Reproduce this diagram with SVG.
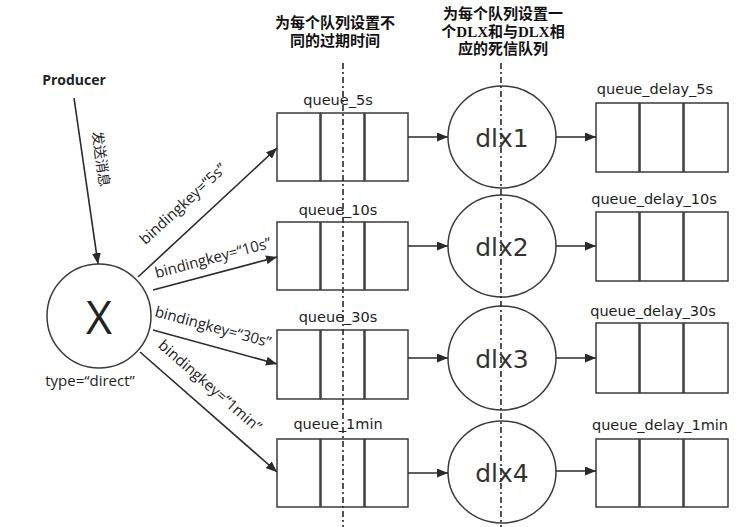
<svg xmlns="http://www.w3.org/2000/svg" width="744" height="527" viewBox="0 0 744 527">
<defs>
<style>
.bg{fill:#ffffff}
.cell{fill:#ffffff;stroke:#3a3a3a;stroke-width:1.5}
.node{fill:#ffffff;stroke:#3a3a3a;stroke-width:1.5}
.edge{fill:none;stroke:#2a2a2a;stroke-width:1.6}
.guide{fill:none;stroke:#2a2a2a;stroke-width:1.6;stroke-dasharray:6 3 2 3}
.head{font-family:"Liberation Serif","Noto Sans CJK SC",serif;font-weight:bold;font-size:15px;fill:#111;text-anchor:middle}
.qlabel{font-family:"DejaVu Sans",sans-serif;font-size:14.5px;fill:#222;text-anchor:middle}
.dlx{font-family:"DejaVu Sans",sans-serif;font-size:25px;fill:#333;text-anchor:middle}
.bind{font-family:"Open Sans",sans-serif;font-size:15px;fill:#222;text-anchor:middle}
.cjk{font-family:"Noto Sans CJK SC",sans-serif;font-size:14px;fill:#222;text-anchor:middle}
</style>
<marker id="arr" markerUnits="userSpaceOnUse" markerWidth="11" markerHeight="9" refX="11" refY="4.5" orient="auto">
<path d="M0,0 L11,4.5 L0,9 z" fill="#2a2a2a"/>
</marker>
</defs>
<rect class="bg" x="0" y="0" width="744" height="527"/>

<g id="headings">
<text class="head" x="335" y="28">为每个队列设置不</text>
<text class="head" x="335" y="46">同的过期时间</text>
<text class="head" x="503" y="19">为每个队列设置一</text>
<text class="head" x="503" y="37">个DLX和与DLX相</text>
<text class="head" x="503" y="54">应的死信队列</text>
</g>

<g id="producer">
<text x="74" y="85" font-family="'Open Sans',sans-serif" font-weight="bold" font-size="14" fill="#222" text-anchor="middle">Producer</text>
</g>

<g id="exchange">
<circle class="node" cx="99" cy="316" r="52"/>
<text x="99" y="334" font-family="'Open Sans',sans-serif" font-size="45" fill="#222" text-anchor="middle">X</text>
<text class="bind" x="90" y="386" font-size="15.5">type=“direct”</text>
</g>

<g id="queue_5s">
<text class="qlabel" x="338" y="105">queue_5s</text>
<rect class="cell" x="277" y="113" width="43" height="68"/>
<rect class="cell" x="321" y="113" width="43" height="68"/>
<rect class="cell" x="365" y="113" width="43" height="68"/>
</g>
<g id="queue_10s">
<text class="qlabel" x="338" y="215">queue_10s</text>
<rect class="cell" x="277" y="222" width="43" height="68"/>
<rect class="cell" x="321" y="222" width="43" height="68"/>
<rect class="cell" x="365" y="222" width="43" height="68"/>
</g>
<g id="queue_30s">
<text class="qlabel" x="338" y="322">queue_30s</text>
<rect class="cell" x="277" y="330" width="43" height="69"/>
<rect class="cell" x="321" y="330" width="43" height="69"/>
<rect class="cell" x="365" y="330" width="43" height="69"/>
</g>
<g id="queue_1min">
<text class="qlabel" x="338" y="429">queue_1min</text>
<rect class="cell" x="277" y="439" width="43" height="68"/>
<rect class="cell" x="321" y="439" width="43" height="68"/>
<rect class="cell" x="365" y="439" width="43" height="68"/>
</g>

<g id="dlx1">
<ellipse class="node" cx="502" cy="137" rx="54" ry="51"/>
<text class="dlx" x="502" y="147">dlx1</text>
</g>
<g id="dlx2">
<ellipse class="node" cx="502" cy="246" rx="54" ry="51"/>
<text class="dlx" x="502" y="256">dlx2</text>
</g>
<g id="dlx3">
<ellipse class="node" cx="502" cy="358" rx="54" ry="52"/>
<text class="dlx" x="502" y="368">dlx3</text>
</g>
<g id="dlx4">
<ellipse class="node" cx="502" cy="472" rx="54" ry="51"/>
<text class="dlx" x="502" y="482">dlx4</text>
</g>

<g id="queue_delay_5s">
<text class="qlabel" x="655" y="94">queue_delay_5s</text>
<rect class="cell" x="596" y="103" width="43" height="69"/>
<rect class="cell" x="640" y="103" width="43" height="69"/>
<rect class="cell" x="684" y="103" width="44" height="69"/>
</g>
<g id="queue_delay_10s">
<text class="qlabel" x="654" y="204">queue_delay_10s</text>
<rect class="cell" x="596" y="212" width="43" height="69"/>
<rect class="cell" x="640" y="212" width="43" height="69"/>
<rect class="cell" x="684" y="212" width="44" height="69"/>
</g>
<g id="queue_delay_30s">
<text class="qlabel" x="653" y="316">queue_delay_30s</text>
<rect class="cell" x="596" y="323" width="43" height="70"/>
<rect class="cell" x="640" y="323" width="43" height="70"/>
<rect class="cell" x="684" y="323" width="44" height="70"/>
</g>
<g id="queue_delay_1min">
<text class="qlabel" x="660" y="430">queue_delay_1min</text>
<rect class="cell" x="596" y="439" width="43" height="68"/>
<rect class="cell" x="640" y="439" width="43" height="68"/>
<rect class="cell" x="684" y="439" width="44" height="68"/>
</g>

<g id="connectors">
<line class="edge" x1="74" y1="98" x2="98" y2="264" marker-end="url(#arr)"/>
<text class="cjk" transform="translate(101,159) rotate(82)" y="5">发送消息</text>

<line class="edge" x1="138" y1="277" x2="277" y2="148" marker-end="url(#arr)"/>
<text class="bind" transform="translate(183,204) rotate(-42.7)" y="5">bindingkey=“5s”</text>
<line class="edge" x1="153" y1="290" x2="277" y2="257" marker-end="url(#arr)"/>
<text class="bind" transform="translate(213,258) rotate(-14.9)" y="5">bindingkey=“10s”</text>
<line class="edge" x1="153" y1="330" x2="277" y2="364" marker-end="url(#arr)"/>
<text class="bind" transform="translate(213,327) rotate(15.2)" y="5">bindingkey=“30s”</text>
<line class="edge" x1="140" y1="352" x2="277" y2="472" marker-end="url(#arr)"/>
<text class="bind" transform="translate(210,386) rotate(41)" y="5">bindingkey=“1min”</text>

<line class="edge" x1="408" y1="137" x2="448" y2="137" marker-end="url(#arr)"/>
<line class="edge" x1="408" y1="246" x2="448" y2="246" marker-end="url(#arr)"/>
<line class="edge" x1="408" y1="358" x2="448" y2="358" marker-end="url(#arr)"/>
<line class="edge" x1="408" y1="473" x2="448" y2="473" marker-end="url(#arr)"/>

<line class="edge" x1="556" y1="137" x2="596" y2="137" marker-end="url(#arr)"/>
<line class="edge" x1="556" y1="246" x2="596" y2="246" marker-end="url(#arr)"/>
<line class="edge" x1="556" y1="358" x2="596" y2="358" marker-end="url(#arr)"/>
<line class="edge" x1="556" y1="471" x2="596" y2="471" marker-end="url(#arr)"/>
</g>

<g id="guides">
<line class="guide" x1="343" y1="63" x2="343" y2="527"/>
<line class="guide" x1="501" y1="63" x2="501" y2="527"/>
</g>
</svg>
